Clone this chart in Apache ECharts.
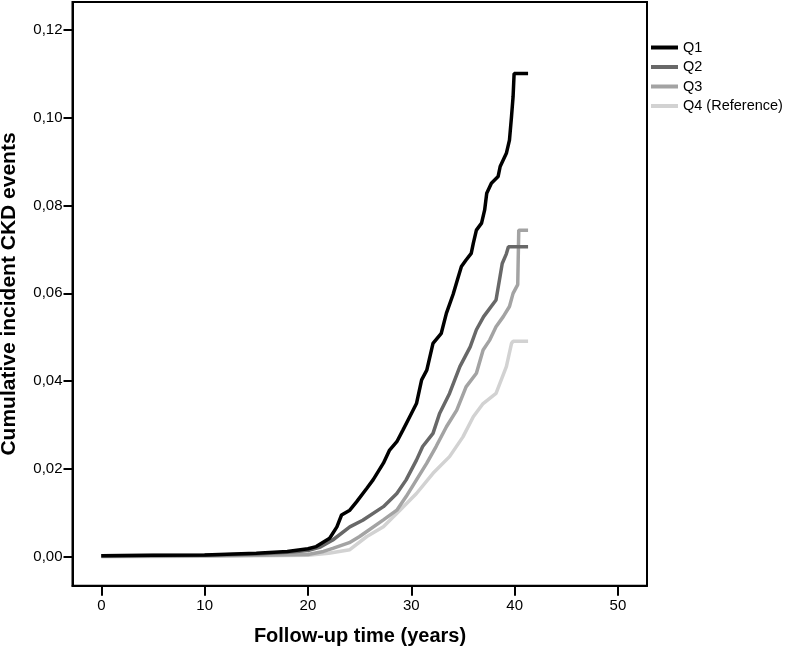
<!DOCTYPE html>
<html>
<head>
<meta charset="utf-8">
<script src="https://cdn.jsdelivr.net/npm/echarts@6/dist/echarts.min.js"></script>
<style>
  html, body { margin: 0; padding: 0; background: #fff; }
  #chart { width: 787px; height: 652px; }
</style>
</head>
<body>
<div id="chart"></div>
<script>
// tick labels
var xTicks = [0, 10, 20, 30, 40, 50];
var yTicks = [0, 0.02, 0.04, 0.06, 0.08, 0.10, 0.12];
var groups = ['Q1', 'Q2', 'Q3', 'Q4 (Reference)'];
var colors = ['#000000', '#686868', '#a3a3a3', '#d2d2d2'];

// follow-up time (years) and cumulative incidence per quartile
var q1Time = [0, 5, 10, 15, 18, 20, 20.8, 22.1, 22.8, 23.25, 24.05, 24.7, 25.7, 26.3, 27.3, 27.9, 28.6, 29.2, 29.85, 30.5, 31.0, 31.5, 32.1, 32.9, 33.4, 34.05, 34.5, 34.85, 35.3, 35.8, 36.0, 36.3, 36.8, 37.1, 37.3, 37.75, 38.4, 38.6, 39.2, 39.5, 39.7, 39.85, 39.95, 41.3];
var q1Value = [0.0002, 0.0003, 0.0004, 0.0008, 0.0012, 0.0018, 0.0023, 0.0042, 0.0068, 0.0095, 0.0106, 0.0125, 0.0156, 0.0175, 0.0213, 0.0243, 0.0262, 0.0289, 0.0319, 0.0349, 0.0403, 0.0425, 0.0486, 0.0509, 0.0555, 0.0598, 0.0634, 0.0661, 0.0676, 0.0691, 0.0714, 0.0744, 0.0760, 0.0790, 0.0828, 0.0851, 0.0866, 0.0889, 0.0919, 0.0949, 0.1003, 0.1048, 0.1101, 0.1101];

var q2Time = [0, 10, 15, 18, 20, 21.2, 22.4, 24.05, 25.3, 27.3, 28.6, 29.5, 30.5, 31.1, 32.1, 32.75, 33.7, 34.7, 35.7, 36.3, 37.0, 38.2, 38.6, 38.8, 39.2, 39.4, 41.3];
var q2Value = [0.0002, 0.0003, 0.0006, 0.0010, 0.0014, 0.0022, 0.0038, 0.0068, 0.0083, 0.0114, 0.0144, 0.0175, 0.0220, 0.0251, 0.0281, 0.0327, 0.0372, 0.0433, 0.0478, 0.0517, 0.0547, 0.0585, 0.0640, 0.0668, 0.0690, 0.0706, 0.0706];

var q3Time = [0, 10, 15, 20, 21.5, 22.4, 24.0, 25.0, 27.3, 28.6, 29.5, 30.5, 31.5, 32.4, 33.4, 34.4, 35.3, 36.3, 36.95, 37.6, 38.2, 38.9, 39.5, 39.85, 40.3, 40.4, 41.3];
var q3Value = [0.0001, 0.0002, 0.0003, 0.0005, 0.0012, 0.0019, 0.0032, 0.0046, 0.0084, 0.0106, 0.0137, 0.0175, 0.0213, 0.0251, 0.0296, 0.0334, 0.0387, 0.0418, 0.0471, 0.0494, 0.0524, 0.0547, 0.0570, 0.0600, 0.0620, 0.0744, 0.0744];

var q4Time = [0, 10, 15, 20, 22, 24.05, 25.7, 27.3, 28.9, 30.5, 32.1, 33.7, 35.0, 36.0, 36.95, 38.2, 39.2, 39.7, 39.85, 41.3];
var q4Value = [0.0000, 0.0001, 0.0002, 0.0003, 0.0008, 0.0016, 0.0046, 0.0068, 0.0106, 0.0144, 0.0190, 0.0228, 0.0273, 0.0319, 0.0349, 0.0372, 0.0433, 0.0486, 0.0491, 0.0491];

function pairs(t, v) {
  var out = [];
  for (var i = 0; i < t.length; i++) out.push([t[i], v[i]]);
  return out;
}
var allData = [pairs(q1Time, q1Value), pairs(q2Time, q2Value), pairs(q3Time, q3Value), pairs(q4Time, q4Value)];

var font = '"Liberation Sans", Arial, Helvetica, sans-serif';

var series = [];
// draw Q4 first so the darker lines sit on top
for (var i = groups.length - 1; i >= 0; i--) {
  series.push({
    name: groups[i],
    type: 'line',
    data: allData[i],
    showSymbol: false,
    symbol: 'none',
    lineStyle: { color: colors[i], width: 3.5 },
    itemStyle: { color: colors[i] },
    animation: false,
    silent: true
  });
}

var chart = echarts.init(document.getElementById('chart'), null, { renderer: 'canvas' });
chart.setOption({
  backgroundColor: '#ffffff',
  animation: false,
  grid: {
    left: 72.5, right: 140, top: 2, bottom: 66.3,
    show: true, borderColor: '#000', borderWidth: 2, backgroundColor: 'transparent'
  },
  legend: {
    data: groups,
    orient: 'vertical',
    left: 651,
    top: 40,
    padding: 0,
    icon: 'rect',
    itemWidth: 27,
    itemHeight: 4,
    itemGap: 4.5,
    textStyle: { fontFamily: font, fontSize: 14.5, color: '#000', lineHeight: 15 },
    selectedMode: false
  },
  xAxis: {
    type: 'value',
    min: -2.787,
    max: 52.81,
    axisLine: { show: true, onZero: false, lineStyle: { color: '#000', width: 2 } },
    axisTick: { show: true, customValues: xTicks, length: 10, lineStyle: { color: '#000', width: 2 } },
    axisLabel: { customValues: xTicks, margin: 13, fontFamily: font, fontSize: 15, color: '#000' },
    splitLine: { show: false }
  },
  yAxis: {
    type: 'value',
    min: -0.00661,
    max: 0.12638,
    axisLine: { show: true, onZero: false, lineStyle: { color: '#000', width: 2 } },
    axisTick: { show: true, customValues: yTicks, length: 9, lineStyle: { color: '#000', width: 2 } },
    axisLabel: {
      customValues: yTicks, margin: 10, fontFamily: font, fontSize: 15, color: '#000',
      formatter: function (v) { return v.toFixed(2).replace('.', ','); }
    },
    splitLine: { show: false }
  },
  graphic: [
    {
      type: 'text', x: 9, y: 294, rotation: Math.PI / 2,
      style: { text: 'Cumulative incident CKD events', fontFamily: font, fontSize: 21, fontWeight: 'bold', fill: '#000', align: 'center', verticalAlign: 'middle' }
    },
    {
      type: 'text', x: 360, y: 636,
      style: { text: 'Follow-up time (years)', fontFamily: font, fontSize: 20, fontWeight: 'bold', fill: '#000', align: 'center', verticalAlign: 'middle' }
    }
  ],
  series: series
});
</script>
</body>
</html>
